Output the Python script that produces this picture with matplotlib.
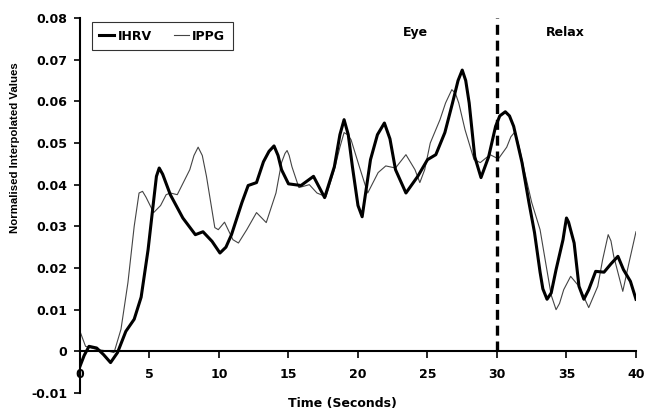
import numpy as np
import matplotlib
matplotlib.use("Agg")
import matplotlib.pyplot as plt

plt.rcParams['font.family'] = ['DejaVu Sans']
plt.rcParams['font.weight'] = 'bold'

# IHRV (thick line)
ihrv_t = [0.0, 0.3, 0.65, 1.2, 1.7, 2.2, 2.7, 3.3, 3.9, 4.4, 4.9, 5.25, 5.5, 5.7, 5.95,
          6.5, 7.4, 8.3, 8.85, 9.5, 10.07, 10.5, 10.9, 11.65, 12.1, 12.7, 13.2, 13.6,
          13.96, 14.25, 14.5, 15.0, 15.9, 16.8, 17.6, 18.3, 18.7, 19.0, 19.3, 19.6, 20.0,
          20.3, 20.55, 20.9, 21.4, 21.9, 22.3, 22.7, 23.45, 24.3, 25.0, 25.6, 26.25, 26.8,
          27.2, 27.5, 27.75, 28.0, 28.4, 28.85, 29.4, 29.9, 30.2, 30.6, 30.9, 31.2, 31.8,
          32.3, 32.7, 33.1, 33.3, 33.6, 33.9, 34.25, 34.75, 34.9, 35.0, 35.15, 35.55, 35.9,
          36.25, 36.6, 37.1, 37.7, 38.2, 38.7, 39.1, 39.6, 40.0]
ihrv_v = [-0.0036, -0.001, 0.0012, 0.0008, -0.0008, -0.0027, -0.0003, 0.0048, 0.0077,
          0.013, 0.0244, 0.0347, 0.042, 0.044, 0.0425, 0.0376, 0.032, 0.028, 0.0287,
          0.0264, 0.0236, 0.025, 0.028, 0.0357, 0.0398, 0.0405, 0.0455, 0.048, 0.0493,
          0.047, 0.0436, 0.0402, 0.0398, 0.042, 0.0369, 0.0443, 0.052, 0.0556, 0.052,
          0.0443, 0.035, 0.0323, 0.038, 0.046, 0.052, 0.0548, 0.051, 0.0436, 0.038, 0.042,
          0.046, 0.0472, 0.0525, 0.0596, 0.065, 0.0675, 0.065, 0.0596, 0.0467, 0.0417,
          0.0467, 0.054, 0.0565, 0.0575, 0.0565, 0.054, 0.0453, 0.0357, 0.0285, 0.019,
          0.015, 0.0125, 0.014, 0.0196, 0.0268, 0.030, 0.032, 0.031, 0.026, 0.0156, 0.0125,
          0.0148, 0.0192, 0.019, 0.021, 0.0228, 0.0196, 0.0168, 0.0125]

# IPPG (thin line)
ippg_t = [0.0, 0.4, 1.15, 2.1, 2.45, 2.95, 3.45, 3.9, 4.25, 4.5, 4.75, 5.3, 5.8, 6.2,
          6.5, 7.0, 7.9, 8.2, 8.5, 8.8, 9.1, 9.7, 9.95, 10.4, 11.0, 11.4, 12.0, 12.7, 13.4,
          14.1, 14.5, 14.75, 14.9, 15.05, 15.25, 15.75, 16.5, 17.05, 17.7, 18.3, 18.7,
          19.0, 19.25, 19.5, 20.1, 20.7, 21.45, 22.0, 22.7, 23.45, 24.1, 24.45, 24.8, 25.2,
          25.9, 26.3, 26.75, 27.0, 27.25, 27.7, 28.35, 28.8, 29.5, 30.1, 30.7, 31.0, 31.3,
          31.6, 31.95, 32.5, 33.1, 33.5, 33.9, 34.25, 34.5, 34.8, 35.3, 35.9, 36.6, 37.25,
          37.6, 38.0, 38.2, 38.4, 39.05, 39.5, 40.0]
ippg_v = [0.0048, 0.0012, 0.0005, 0.0, -0.0003, 0.0053, 0.0165, 0.030, 0.038, 0.0384,
          0.037, 0.0333, 0.035, 0.0376, 0.038, 0.0376, 0.0436, 0.047, 0.049, 0.047, 0.042,
          0.0297, 0.0292, 0.031, 0.0268, 0.026, 0.0292, 0.0333, 0.0309, 0.038, 0.0453,
          0.0475, 0.0482, 0.047, 0.0443, 0.0393, 0.040, 0.038, 0.0371, 0.0436, 0.049,
          0.0525, 0.052, 0.0508, 0.0443, 0.038, 0.0429, 0.0445, 0.044, 0.0472, 0.0436,
          0.0405, 0.0436, 0.050, 0.0556, 0.0596, 0.0628, 0.062, 0.0596, 0.0532, 0.046,
          0.0453, 0.0472, 0.0462, 0.049, 0.0515, 0.0527, 0.049, 0.0436, 0.0357, 0.0292,
          0.0213, 0.0135, 0.010, 0.0115, 0.0148, 0.018, 0.0156, 0.0105, 0.0156, 0.022,
          0.028, 0.0265, 0.0228, 0.0144, 0.0213, 0.0287]

xticks = [0, 5, 10, 15, 20, 25, 30, 35, 40]
yticks = [-0.01, 0, 0.01, 0.02, 0.03, 0.04, 0.05, 0.06, 0.07, 0.08]
ylabels = ['-0.01', '0', '0.01', '0.02', '0.03', '0.04', '0.05', '0.06', '0.07', '0.08']

fig = plt.figure(figsize=(6.46, 4.12), dpi=100)
ax = fig.add_axes([0.1238, 0.0461, 0.8607, 0.9102])

ax.plot(ihrv_t, ihrv_v, color='black', lw=2.2, label='IHRV', zorder=3)
ax.plot(ippg_t, ippg_v, color='#444444', lw=0.8, label='IPPG', zorder=2)

ax.plot([30, 30], [0, 0.08], color='black', lw=2.4, ls=(0, (3.0, 1.75)), zorder=4)
ax.text(24.1, 0.0765, 'Eye', ha='center', va='center', fontsize=9, fontweight='bold')
ax.text(34.9, 0.0765, 'Relax', ha='center', va='center', fontsize=9, fontweight='bold')

ax.set_xlim(0, 40)
ax.set_ylim(-0.01, 0.08)
ax.spines['top'].set_visible(False)
ax.spines['right'].set_visible(False)
ax.spines['bottom'].set_position(('data', 0))
ax.spines['left'].set_linewidth(1.5)
ax.spines['bottom'].set_linewidth(1.5)

ax.set_xticks(xticks)
ax.set_xticklabels([str(x) for x in xticks], fontsize=9, fontweight='bold')
ax.set_yticks(yticks)
ax.set_yticklabels(ylabels, fontsize=9, fontweight='bold')
ax.tick_params(axis='x', direction='out', length=5, width=1.2, pad=7)
ax.tick_params(axis='y', direction='out', length=4, width=1.2, pad=5)

fig.text(15 / 646, 1 - 148 / 412, 'Normalised Interpolated Values', rotation=90,
         ha='center', va='center', fontsize=8.2, fontweight='bold',
         family='Liberation Sans')
fig.text(342 / 646, 1 - 404 / 412, 'Time (Seconds)', ha='center', va='center',
         fontsize=9, fontweight='bold')

leg = ax.legend(loc='upper left', ncol=2, frameon=True, fancybox=False,
                handlelength=1.2, handletextpad=0.3, columnspacing=1.7,
                borderpad=0.6, borderaxespad=0, prop={'size': 9, 'weight': 'bold'},
                bbox_to_anchor=(0.0216, 0.989))
leg.get_frame().set_edgecolor('black')
leg.get_frame().set_linewidth(0.8)

fig.savefig('out.png', dpi=100)
